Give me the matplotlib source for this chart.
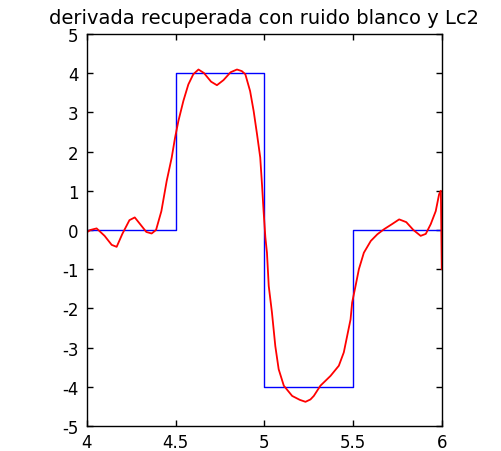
import matplotlib
matplotlib.use("Agg")
import matplotlib.pyplot as plt

plt.rcParams["axes.unicode_minus"] = False

# derivada exacta (escalon)
x_true = [4.0, 4.5, 4.5, 5.0, 5.0, 5.5, 5.5, 6.0]
y_true = [0, 0, 4, 4, -4, -4, 0, 0]

# derivada recuperada con ruido blanco
x_rec = [4.0, 4.02, 4.055, 4.1, 4.14, 4.168, 4.2, 4.24, 4.27, 4.3, 4.335, 4.365,
         4.39, 4.42, 4.45, 4.478, 4.497, 4.516, 4.544, 4.572, 4.6, 4.629, 4.66,
         4.70, 4.733, 4.77, 4.81, 4.846, 4.873, 4.893, 4.92, 4.94, 4.959, 4.977,
         4.987, 4.996, 5.006, 5.015, 5.025, 5.043, 5.062, 5.081, 5.11, 5.157,
         5.20, 5.232, 5.26, 5.279, 5.316, 5.373, 5.42, 5.448, 5.467, 5.486,
         5.495, 5.514, 5.533, 5.561, 5.6, 5.637, 5.675, 5.72, 5.76, 5.80, 5.84,
         5.881, 5.91, 5.938, 5.966, 5.985, 5.995, 6.0]
y_rec = [-0.06, 0.0, 0.04, -0.15, -0.38, -0.43, -0.1, 0.25, 0.32, 0.15, -0.05, -0.09,
         0.0, 0.48, 1.25, 1.84, 2.35, 2.78, 3.29, 3.71, 3.97, 4.09, 4.0,
         3.78, 3.69, 3.82, 4.02, 4.09, 4.05, 3.97, 3.54, 3.03, 2.44, 1.85,
         1.16, 0.48, -0.19, -0.58, -1.43, -2.1, -2.96, -3.55, -3.97, -4.23,
         -4.33, -4.38, -4.32, -4.23, -3.97, -3.72, -3.46, -3.12, -2.7, -2.28,
         -1.85, -1.43, -1.0, -0.58, -0.28, -0.11, 0.02, 0.15, 0.27, 0.2, 0.0,
         -0.15, -0.1, 0.15, 0.48, 0.91, 1.0, -1.0]

fig = plt.figure(figsize=(5.02, 4.52), dpi=100)
ax = fig.add_axes([0.173, 0.055, 0.707, 0.868])
ax.plot(x_true, y_true, color="#0000ff", lw=1.0)
ax.plot(x_rec, y_rec, color="#ff0000", lw=1.3)

ax.set_xlim(4, 6)
ax.set_ylim(-5, 5)
ax.set_xticks([4, 4.5, 5, 5.5, 6])
ax.set_xticklabels(["4", "4.5", "5", "5.5", "6"])
ax.set_yticks(range(-5, 6))
ax.tick_params(direction="in", top=True, right=True, length=4, width=1,
               labelsize=12)
ax.tick_params(axis="x", pad=5)
ax.tick_params(axis="y", pad=6)
for s in ax.spines.values():
    s.set_linewidth(1.0)
ax.set_title("derivada recuperada con ruido blanco y Lc2", fontsize=14, pad=8)

fig.savefig("out.png", dpi=100)
